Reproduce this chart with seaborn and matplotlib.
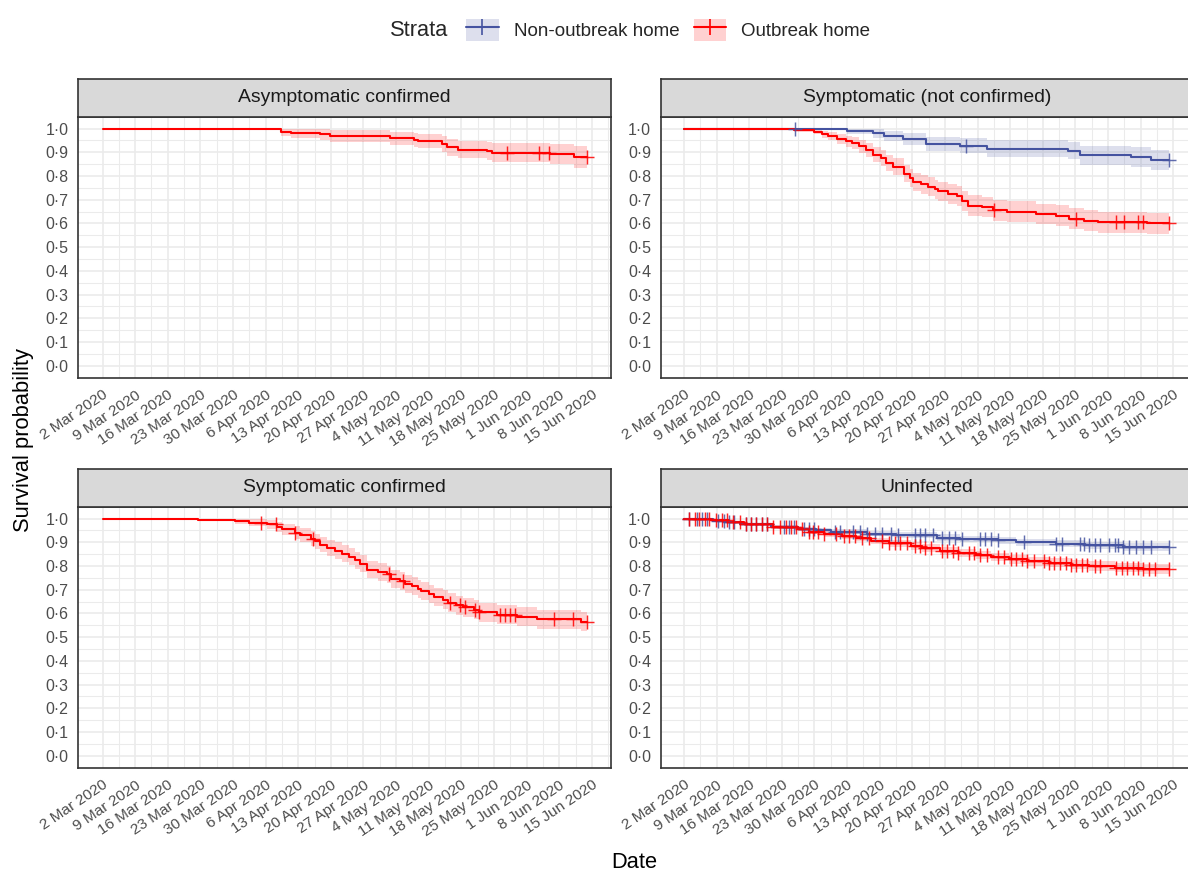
import numpy as np
import pandas as pd
import matplotlib
matplotlib.use("Agg")
import matplotlib.pyplot as plt
import seaborn as sns
from matplotlib.patches import Patch
from matplotlib.lines import Line2D

# ---------------------------------------------------------
# Data: days since 2 Mar 2020, KM estimate + 95% CI, censor times
# ---------------------------------------------------------
date_labels = ["2 Mar 2020", "9 Mar 2020", "16 Mar 2020", "23 Mar 2020", "30 Mar 2020",
               "6 Apr 2020", "13 Apr 2020", "20 Apr 2020", "27 Apr 2020", "4 May 2020",
               "11 May 2020", "18 May 2020", "25 May 2020", "1 Jun 2020", "8 Jun 2020",
               "15 Jun 2020"]
y_labels = ["0·0", "0·1", "0·2", "0·3", "0·4", "0·5", "0·6", "0·7", "0·8", "0·9", "1·0"]
panels = ["Asymptomatic confirmed", "Symptomatic (not confirmed)",
          "Symptomatic confirmed", "Uninfected"]
strata = ["Non-outbreak home", "Outbreak home"]

# Asymptomatic confirmed - outbreak home
asym_out_t = [0, 38.3, 40.5, 46.7, 48.9, 61.6, 66.9, 67.6, 72.9, 74.0, 76.2, 82.4, 83.6, 96.0, 101.2, 104]
asym_out_s = [1.0, 0.987, 0.98, 0.975, 0.969, 0.959, 0.953, 0.946, 0.934, 0.921, 0.911, 0.905, 0.897, 0.893, 0.879, 0.879]
asym_out_lo = [1.0, 0.97, 0.96, 0.953, 0.945, 0.932, 0.924, 0.916, 0.9, 0.886, 0.874, 0.866, 0.857, 0.852, 0.834, 0.834]
asym_out_hi = [1.0, 1.0, 1.0, 0.997, 0.993, 0.986, 0.982, 0.977, 0.968, 0.957, 0.949, 0.945, 0.939, 0.936, 0.926, 0.926]
asym_out_cens = [86.7, 93.7, 95.8, 104]

# Symptomatic (not confirmed) - non-outbreak home
symnc_non_t = [0, 35.0, 40.6, 43.0, 46.9, 51.9, 59.3, 65.1, 82.3, 85.0, 95.9, 100.2, 104]
symnc_non_s = [1.0, 0.988, 0.98, 0.97, 0.956, 0.936, 0.928, 0.914, 0.907, 0.888, 0.882, 0.868, 0.868]
symnc_non_lo = [1.0, 0.975, 0.962, 0.948, 0.93, 0.905, 0.895, 0.878, 0.87, 0.848, 0.84, 0.825, 0.825]
symnc_non_hi = [1.0, 1.0, 0.997, 0.99, 0.982, 0.966, 0.96, 0.95, 0.944, 0.928, 0.923, 0.911, 0.911]
symnc_non_cens = [23.9, 60.6, 104]

# Symptomatic (not confirmed) - outbreak home
symnc_out_t = [0, 23.5, 27.8, 29.7, 30.9, 32.8, 34.7, 36.0, 37.5, 39.0, 40.6, 42.2, 43.4, 44.9, 47.3,
               48.4, 49.2, 50.8, 52.3, 53.9, 54.6, 56.6, 58.5, 59.7, 60.9, 64.0, 66.3, 69.4, 75.6,
               79.9, 82.7, 85.8, 88.9, 99.4, 104]
symnc_out_s = [1.0, 0.993, 0.987, 0.975, 0.968, 0.955, 0.946, 0.94, 0.925, 0.91, 0.89, 0.875, 0.855,
               0.84, 0.81, 0.79, 0.775, 0.765, 0.755, 0.745, 0.735, 0.725, 0.715, 0.695, 0.675,
               0.668, 0.655, 0.65, 0.64, 0.633, 0.62, 0.612, 0.605, 0.6, 0.6]
symnc_out_lo = [1.0, 0.985, 0.975, 0.959, 0.95, 0.934, 0.923, 0.915, 0.898, 0.881, 0.859, 0.842, 0.821,
                0.805, 0.773, 0.752, 0.736, 0.726, 0.715, 0.705, 0.694, 0.684, 0.673, 0.653, 0.632,
                0.625, 0.612, 0.606, 0.596, 0.589, 0.575, 0.567, 0.56, 0.555, 0.555]
symnc_out_hi = [1.0, 1.0, 0.999, 0.991, 0.986, 0.976, 0.969, 0.965, 0.952, 0.939, 0.921, 0.908, 0.889,
                0.875, 0.847, 0.828, 0.814, 0.804, 0.795, 0.785, 0.776, 0.766, 0.757, 0.737, 0.718,
                0.711, 0.698, 0.694, 0.684, 0.677, 0.665, 0.657, 0.65, 0.645, 0.645]
symnc_out_cens = [66.6, 84.2, 92.6, 94.5, 97.5, 98.6, 104]

# Symptomatic confirmed - outbreak home
symc_out_t = [0, 20.5, 28.4, 31.5, 35.4, 37.4, 38.5, 41.2, 42.4, 44.7, 45.5, 46.7, 48.2, 49.8, 51.3,
              52.9, 54.1, 55.2, 56.8, 59.1, 61.0, 61.8, 63.8, 64.9, 66.5, 67.6, 68.4, 70.0, 71.1,
              73.1, 74.2, 75.8, 77.4, 79.7, 80.8, 84.7, 89.0, 93.3, 102.6, 104]
symc_out_s = [1.0, 0.995, 0.988, 0.982, 0.975, 0.965, 0.955, 0.94, 0.93, 0.915, 0.905, 0.89, 0.877,
              0.865, 0.852, 0.84, 0.825, 0.81, 0.785, 0.775, 0.765, 0.745, 0.735, 0.725, 0.715,
              0.705, 0.695, 0.682, 0.67, 0.658, 0.645, 0.635, 0.625, 0.615, 0.605, 0.595, 0.585,
              0.575, 0.565, 0.565]
symc_out_lo = [1.0, 0.989, 0.976, 0.967, 0.957, 0.944, 0.931, 0.913, 0.901, 0.884, 0.873, 0.857, 0.843,
               0.83, 0.817, 0.804, 0.789, 0.774, 0.748, 0.738, 0.728, 0.707, 0.697, 0.687, 0.677,
               0.667, 0.656, 0.643, 0.631, 0.619, 0.605, 0.595, 0.585, 0.575, 0.565, 0.555, 0.545,
               0.535, 0.525, 0.525]
symc_out_hi = [1.0, 1.0, 1.0, 0.997, 0.993, 0.986, 0.979, 0.967, 0.959, 0.946, 0.937, 0.923, 0.911,
               0.9, 0.887, 0.876, 0.861, 0.846, 0.822, 0.812, 0.802, 0.783, 0.773, 0.763, 0.753,
               0.743, 0.734, 0.721, 0.709, 0.697, 0.685, 0.675, 0.665, 0.655, 0.645, 0.635, 0.625,
               0.615, 0.605, 0.605]
symc_out_cens = [34.1, 37.2, 41.2, 45.1, 61.4, 64.4, 74.6, 76.8, 77.7, 79.9, 80.8, 85.3, 86.3, 87.5,
                 88.5, 96.8, 101.0, 104]

# Uninfected - non-outbreak home
uninf_non_t = [0, 6.2, 8.9, 12.0, 18.6, 24.5, 28.4, 31.5, 39.3, 45.6, 54.2, 59.2, 67.4, 71.3, 79.9, 86.1, 94.3, 104]
uninf_non_s = [1.0, 0.99, 0.985, 0.975, 0.965, 0.957, 0.95, 0.945, 0.937, 0.93, 0.92, 0.913, 0.908, 0.9, 0.893, 0.887, 0.88, 0.88]
uninf_non_lo = [1.0, 0.985, 0.979, 0.968, 0.957, 0.948, 0.94, 0.934, 0.925, 0.918, 0.907, 0.9, 0.894, 0.886, 0.878, 0.872, 0.865, 0.865]
uninf_non_hi = [1.0, 0.995, 0.991, 0.982, 0.973, 0.966, 0.96, 0.956, 0.949, 0.942, 0.933, 0.926, 0.922, 0.914, 0.908, 0.902, 0.895, 0.895]
uninf_non_cens = [1.1, 2.7, 3.8, 5.0, 7.3, 8.5, 9.7, 10.8, 13.2, 14.4, 15.5, 16.7, 17.9, 21.4, 22.6,
                  23.7, 25.7, 26.8, 28.0, 32.3, 33.5, 36.2, 37.8, 39.3, 40.9, 42.4, 44.4, 46.0, 49.5,
                  50.6, 51.8, 53.4, 55.3, 56.9, 58.1, 59.6, 63.5, 64.7, 65.9, 67.4, 72.9, 79.9, 81.1,
                  85.0, 85.8, 86.9, 88.1, 89.3, 91.2, 92.4, 93.2, 94.3, 95.5, 97.1, 98.6, 100.2, 104]

# Uninfected - outbreak home
uninf_out_t = [0, 5.8, 9.7, 12.8, 19.0, 24.5, 26.8, 30.0, 33.9, 37.0, 40.1, 44.0, 48.7, 51.0, 54.9,
               58.8, 62.7, 65.9, 69.8, 73.7, 78.3, 83.0, 86.9, 92.4, 98.6, 104]
uninf_out_s = [1.0, 0.993, 0.985, 0.975, 0.965, 0.955, 0.945, 0.935, 0.927, 0.917, 0.905, 0.895, 0.885,
               0.875, 0.865, 0.855, 0.847, 0.837, 0.828, 0.82, 0.813, 0.806, 0.8, 0.793, 0.787, 0.787]
uninf_out_lo = [1.0, 0.988, 0.979, 0.968, 0.957, 0.946, 0.935, 0.924, 0.915, 0.904, 0.891, 0.88, 0.869,
                0.859, 0.848, 0.838, 0.829, 0.819, 0.81, 0.801, 0.794, 0.787, 0.78, 0.773, 0.766, 0.766]
uninf_out_hi = [1.0, 0.998, 0.991, 0.982, 0.973, 0.964, 0.955, 0.946, 0.939, 0.93, 0.919, 0.91, 0.901,
                0.891, 0.882, 0.872, 0.865, 0.855, 0.846, 0.839, 0.832, 0.825, 0.82, 0.813, 0.808, 0.808]
uninf_out_cens = [1.1, 2.3, 3.3, 4.4, 5.4, 6.9, 8.1, 9.3, 10.5, 12.0, 13.2, 14.4, 15.5, 16.7, 17.9,
                  19.0, 20.6, 21.8, 22.9, 24.1, 25.3, 26.8, 27.6, 28.8, 30.0, 32.7, 34.3, 35.4, 36.6,
                  38.2, 39.7, 42.4, 44.0, 45.2, 46.4, 47.9, 49.5, 50.6, 51.8, 53.0, 55.3, 56.5, 57.7,
                  58.8, 61.2, 62.3, 63.5, 65.1, 67.4, 68.6, 70.2, 71.3, 72.5, 73.7, 75.2, 77.2, 78.3,
                  79.5, 80.7, 81.9, 83.0, 84.2, 85.4, 86.5, 88.1, 89.3, 92.8, 94.0, 95.1, 96.3, 97.5,
                  98.6, 99.8, 101.0, 104]

curves = {
    (panels[0], strata[1]): (asym_out_t, asym_out_s, asym_out_lo, asym_out_hi, asym_out_cens),
    (panels[1], strata[0]): (symnc_non_t, symnc_non_s, symnc_non_lo, symnc_non_hi, symnc_non_cens),
    (panels[1], strata[1]): (symnc_out_t, symnc_out_s, symnc_out_lo, symnc_out_hi, symnc_out_cens),
    (panels[2], strata[1]): (symc_out_t, symc_out_s, symc_out_lo, symc_out_hi, symc_out_cens),
    (panels[3], strata[0]): (uninf_non_t, uninf_non_s, uninf_non_lo, uninf_non_hi, uninf_non_cens),
    (panels[3], strata[1]): (uninf_out_t, uninf_out_s, uninf_out_lo, uninf_out_hi, uninf_out_cens),
}

# long tables for seaborn
rows, cens_rows = [], []
for (pan, st), (t, s, lo, hi, cens) in curves.items():
    for ti, si, l, h in zip(t, s, lo, hi):
        rows.append({"panel": pan, "strata": st, "day": ti, "surv": si, "lo": l, "hi": h})
    t_arr, s_arr = np.array(t), np.array(s)
    for c in cens:
        idx = np.searchsorted(t_arr, c, side="right") - 1
        cens_rows.append({"panel": pan, "strata": st, "day": c, "surv": s_arr[idx]})
df = pd.DataFrame(rows)
cens_df = pd.DataFrame(cens_rows)

# ---------------------------------------------------------
# Style
# ---------------------------------------------------------
sns.set_theme(style="white")
plt.rcParams["font.family"] = ["Liberation Sans", "DejaVu Sans"]

palette = {"Non-outbreak home": "#4553A0", "Outbreak home": "#FF0000"}
border = "#333333"
grid_c = "#EBEBEB"

W, H = 1188, 876
fig = plt.figure(figsize=(W / 150, H / 150), dpi=150)

def frac(x0, x1, y0, y1):
    # pixel box (top-left origin) -> figure fraction rect
    return [x0 / W, 1 - y1 / H, (x1 - x0) / W, (y1 - y0) / H]

# right-hand panels run past the image edge, as in the reference
layout = {
    panels[0]: (78.3, 610.7, 79.3, 116.7, 378.3, (-5.2, 109.05)),
    panels[1]: (660.7, 1193.1, 79.3, 116.7, 378.3, (-5.0, 109.25)),
    panels[2]: (78.3, 610.7, 469.3, 506.7, 768.3, (-5.2, 109.05)),
    panels[3]: (660.7, 1193.1, 469.3, 506.7, 768.3, (-5.0, 109.25)),
}

for pan in panels:
    x0, x1, s0, s1, y1, xlim = layout[pan]
    ax = fig.add_axes(frac(x0, x1, s1, y1))
    sub = df[df["panel"] == pan]
    csub = cens_df[cens_df["panel"] == pan]

    for st in strata:
        d = sub[sub["strata"] == st]
        if len(d):
            ax.fill_between(d["day"], d["lo"], d["hi"], step="post",
                            color=palette[st], alpha=0.18, lw=0)
    sns.lineplot(data=sub, x="day", y="surv", hue="strata", hue_order=strata,
                 palette=palette, estimator=None, sort=False, drawstyle="steps-post",
                 lw=1.0, legend=False, ax=ax)
    for st in strata:
        c = csub[csub["strata"] == st]
        if len(c):
            ax.plot(c["day"], c["surv"], ls="none", marker="+", ms=6.8, mew=0.7,
                    color=palette[st], alpha=0.85)

    ax.set_xlim(*xlim)
    ax.set_ylim(-0.053, 1.049)
    ax.set_xticks(np.arange(len(date_labels)) * 7)
    ax.set_xticklabels(date_labels, rotation=34, ha="right", rotation_mode="anchor",
                       fontsize=7.4, color="#4D4D4D")
    ax.set_xticks(np.arange(len(date_labels)) * 7 + 3.5, minor=True)
    ax.set_yticks(np.arange(len(y_labels)) / 10)
    ax.set_yticklabels(y_labels, fontsize=7.7, color="#4D4D4D")
    ax.set_yticks(np.arange(len(y_labels)) / 10 + 0.05, minor=True)
    ax.tick_params(which="major", length=2.6, width=0.7, color=border, pad=2)
    ax.tick_params(which="minor", length=0)
    ax.grid(which="major", color=grid_c, lw=0.8)
    ax.grid(which="minor", color=grid_c, lw=0.5)
    ax.set_axisbelow(True)
    ax.set_xlabel("")
    ax.set_ylabel("")
    for sp in ax.spines.values():
        sp.set_color(border)
        sp.set_linewidth(0.8)

    # facet strip
    sax = fig.add_axes(frac(x0, x1, s0, s1))
    sax.set_facecolor("#D9D9D9")
    sax.set_xticks([])
    sax.set_yticks([])
    for sp in sax.spines.values():
        sp.set_color(border)
        sp.set_linewidth(0.8)
    sax.text(0.5, 0.5, pan, ha="center", va="center", fontsize=9.3, color="#1A1A1A",
             transform=sax.transAxes)

# axis titles
fig.text(24 / W, 1 - 440 / H, "Survival probability", rotation=90, ha="center",
         va="center", fontsize=10.5, color="black")
fig.text(634 / W, 1 - 862 / H, "Date", ha="center", va="center", fontsize=10.5,
         color="black")

# legend on top
fig.text(390 / W, 1 - 30 / H, "Strata", ha="left", va="center", fontsize=10.5)
handles = [(Patch(facecolor=palette[st], alpha=0.18, lw=0),
            Line2D([], [], color=palette[st], lw=1.0, marker="+", ms=8, mew=0.8))
           for st in strata]
fig.legend(handles, strata, loc="center left", bbox_to_anchor=(466 / W, 1 - 30 / H),
           ncol=2, frameon=False, fontsize=9.0, handlelength=1.75, handleheight=1.5,
           handletextpad=0.8, columnspacing=0.75, borderpad=0, borderaxespad=0)

fig.savefig("out.png", dpi=150)
